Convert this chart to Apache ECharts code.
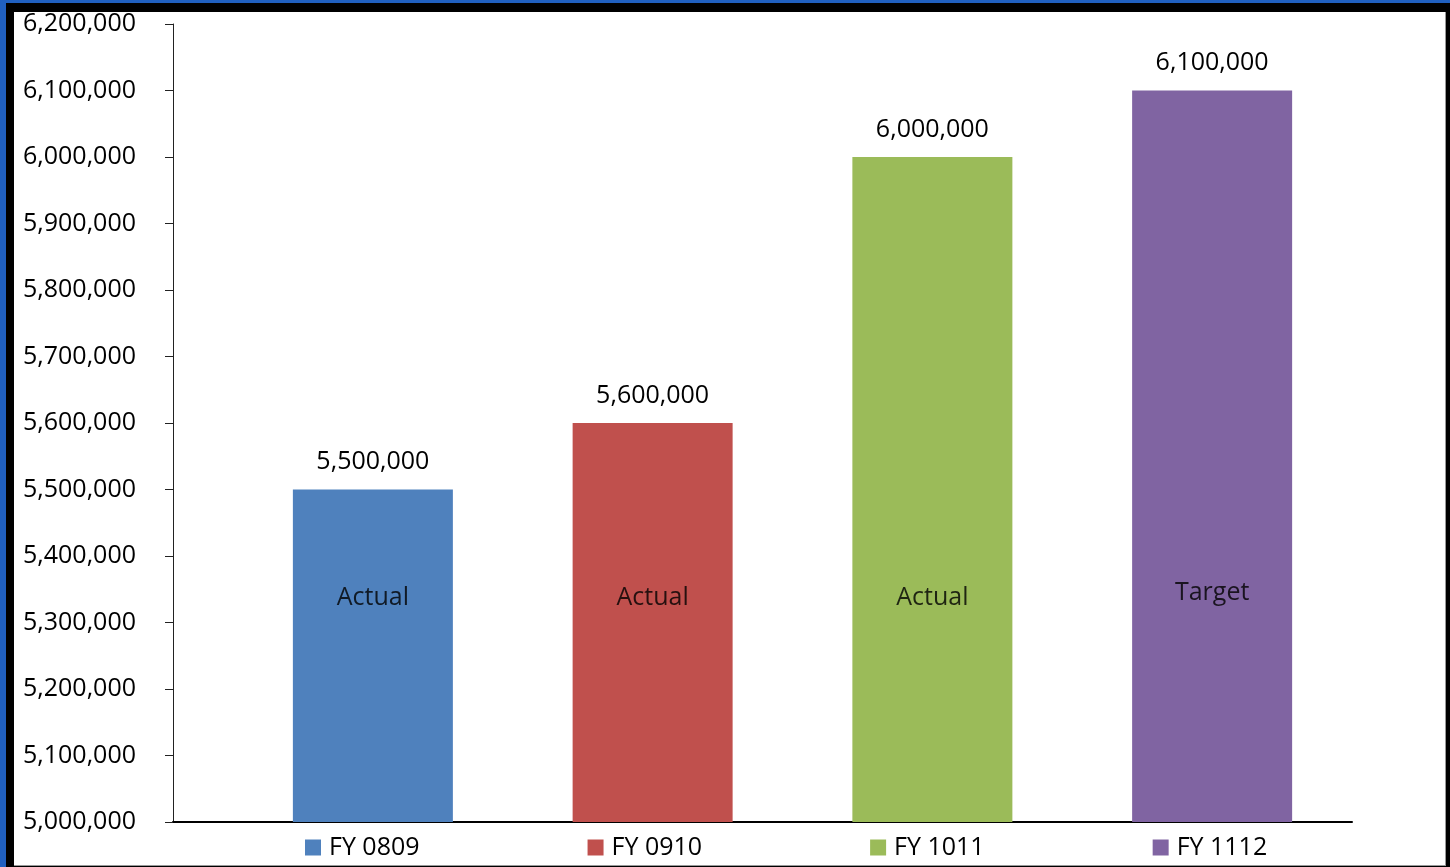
<!DOCTYPE html>
<html>
<head>
<meta charset="utf-8">
<script src="https://cdn.jsdelivr.net/npm/echarts@6/dist/echarts.min.js"></script>
<style>
  html, body { margin: 0; padding: 0; width: 1450px; height: 867px; background: #000; overflow: hidden; }
  #blueLeft { position: absolute; left: 0; top: 0; width: 6px; height: 867px; background: #2060c0; }
  #blueTop { position: absolute; left: 0; top: 0; width: 1450px; height: 3px; background: #2060c0; }
  #frame { position: absolute; left: 14px; top: 12px; width: 1431px; height: 853px; background: #fff;
           border-right: 1px solid #999; border-bottom: 1px solid #999; }
  #main { position: absolute; left: 0; top: 0; width: 1450px; height: 867px; }
</style>
</head>
<body>
<div id="blueLeft"></div>
<div id="blueTop"></div>
<div id="frame"></div>
<div id="main"></div>
<script>
var seriesNames = ["FY 0809", "FY 0910", "FY 1011", "FY 1112"];
var values = [5500000, 5600000, 6000000, 6100000];
var colors = ["#4F81BD", "#C0504D", "#9BBB59", "#8064A2"];
// text written inside each bar, and the level it sits at
var notes = ["Actual", "Actual", "Actual", "Target"];
var noteLevels = [5337000, 5337000, 5337000, 5344000];
var yMin = 5000000;
var yMax = 6200000;
var yStep = 100000;

var font = "Open Sans";

function fmt(v) {
  return Number(v).toLocaleString("en-US");
}

var chart = echarts.init(document.getElementById("main"), null, { renderer: "canvas" });

var series = [];
for (var i = 0; i < seriesNames.length; i++) {
  var d = [];
  for (var j = 0; j < seriesNames.length; j++) {
    d.push(j === i ? values[i] : "-");
  }
  series.push({
    name: seriesNames[i],
    type: "bar",
    stack: "all",
    xAxisIndex: 0,
    yAxisIndex: 0,
    barWidth: 160,
    data: d,
    itemStyle: { color: colors[i] },
    label: {
      show: true,
      position: "top",
      distance: 15,
      fontFamily: font,
      fontSize: 25,
      color: "#000",
      formatter: function (p) { return fmt(p.value); }
    }
  });
}

var noteData = [];
for (var k = 0; k < notes.length; k++) {
  noteData.push({ value: [k, noteLevels[k]], note: notes[k] });
}
series.push({
  name: "notes",
  type: "scatter",
  xAxisIndex: 0,
  yAxisIndex: 0,
  symbolSize: 1,
  silent: true,
  itemStyle: { color: "rgba(0,0,0,0)" },
  data: noteData,
  label: {
    show: true,
    position: "inside",
    fontFamily: font,
    fontSize: 25,
    color: "#000",
    formatter: function (p) { return p.data.note; }
  },
  z: 5
});

var option = {
  animation: false,
  grid: [
    // bars
    { left: 233, right: 98, top: 24, bottom: 45 },
    // axis frame
    { left: 173, right: 98, top: 24, bottom: 45 }
  ],
  legend: {
    data: seriesNames,
    left: 305,
    top: 835,
    padding: 0,
    itemWidth: 16,
    itemHeight: 16,
    itemGap: 168,
    icon: "rect",
    textStyle: { fontFamily: font, fontSize: 25, color: "#000", padding: [0, 0, 0, 3] }
  },
  xAxis: [
    {
      type: "category",
      gridIndex: 0,
      data: seriesNames,
      axisLine: { show: false },
      axisTick: { show: false },
      axisLabel: { show: false }
    },
    {
      type: "category",
      gridIndex: 1,
      data: [""],
      axisLine: { show: true, lineStyle: { color: "#000", width: 2 } },
      axisTick: { show: false },
      axisLabel: { show: false }
    }
  ],
  yAxis: [
    {
      type: "value",
      gridIndex: 0,
      min: yMin,
      max: yMax,
      interval: yStep,
      show: false
    },
    {
      type: "value",
      gridIndex: 1,
      min: yMin,
      max: yMax,
      interval: yStep,
      axisLine: { show: true, lineStyle: { color: "#222", width: 1 } },
      axisTick: { show: true, length: 8, lineStyle: { color: "#222" } },
      splitLine: { show: false },
      axisLabel: {
        margin: 37,
        fontFamily: font,
        fontSize: 25,
        color: "#000",
        formatter: function (v) { return fmt(v); }
      }
    }
  ],
  series: series
};

chart.setOption(option);
</script>
</body>
</html>
